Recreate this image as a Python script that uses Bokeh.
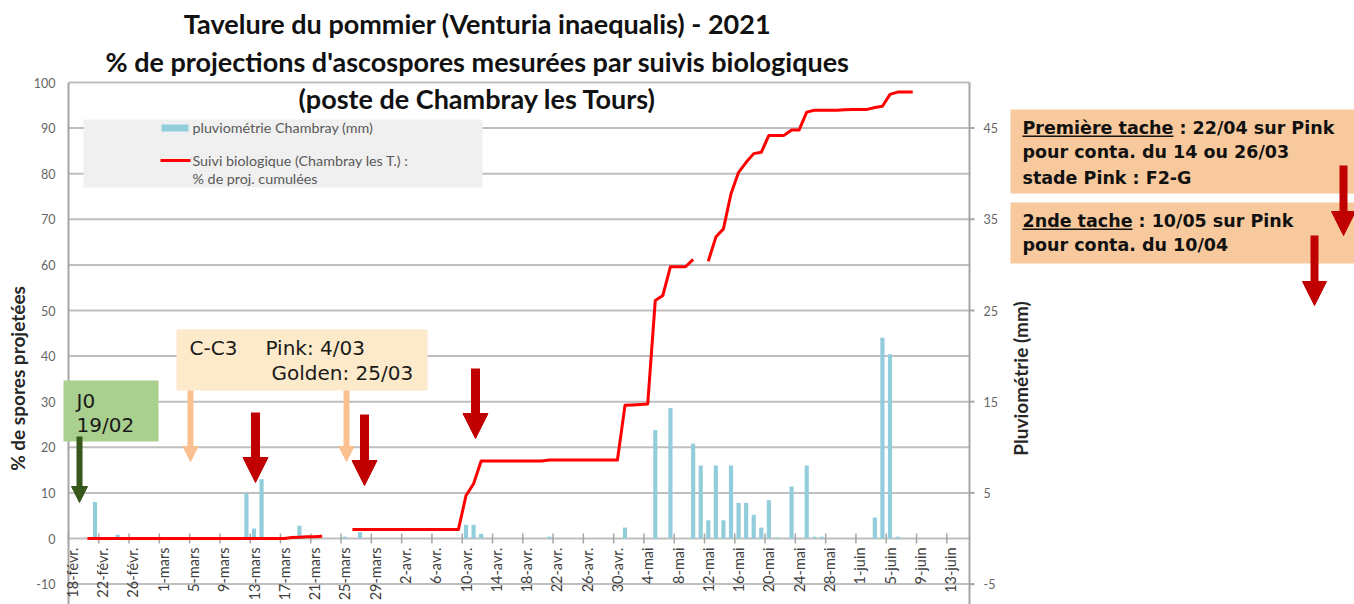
import math
from bokeh.plotting import figure
from bokeh.models import (Range1d, Label, BoxAnnotation, Arrow, NormalHead,
                          ColumnDataSource)
from bokeh.core.properties import value
from bokeh.embed import file_html
from bokeh.resources import INLINE

# ---------------- data ----------------
tick_labels = ["18-févr.", "22-févr.", "26-févr.", "1-mars", "5-mars", "9-mars",
               "13-mars", "17-mars", "21-mars", "25-mars", "29-mars", "2-avr.",
               "6-avr.", "10-avr.", "14-avr.", "18-avr.", "22-avr.", "26-avr.",
               "30-avr.", "4-mai", "8-mai", "12-mai", "16-mai", "20-mai", "24-mai",
               "28-mai", "1-juin", "5-juin", "9-juin", "13-juin"]
tick_step = 4          # one label every 4 days (categories)
n_categories = 119     # days shown on the category axis

# pluviométrie Chambray (mm) : day index (0 = 18-févr.) and rain
rain_day = [3, 6, 23, 24, 25, 30, 36, 38, 52, 53, 54, 63, 73, 77, 79, 82, 83, 84,
            85, 86, 87, 88, 89, 90, 91, 92, 93, 95, 97, 98, 99, 106, 107, 108, 109]
rain_mm = [4.0, 0.4, 5.0, 1.1, 6.5, 1.4, 0.2, 0.7, 1.5, 1.5, 0.5, 0.2, 1.2, 11.9,
           14.3, 10.4, 8.0, 2.0, 8.0, 2.0, 8.0, 3.9, 3.9, 2.6, 1.2, 4.2, 0.1, 5.7,
           8.0, 0.2, 0.2, 2.3, 22.0, 20.2, 0.2]

# Suivi biologique : % de projections cumulées (nan = pas de mesure)
nan = float("nan")
spore_day = list(range(2, 112))
spore_pct = [0.0, 0.0, 0.0, 0.0, 0.0, 0.0, 0.0, 0.0, 0.0, 0.0,          # 2-11
             0.0, 0.0, 0.0, 0.0, 0.0, 0.0, 0.0, 0.0, 0.0, 0.0,          # 12-21
             0.0, 0.0, 0.0, 0.0, 0.0, 0.0, 0.0, 0.2, 0.3, 0.4,          # 22-31
             0.4, 0.5, nan, nan, nan, 2.0, 2.0, 2.0, 2.0, 2.0,          # 32-41
             2.0, 2.0, 2.0, 2.0, 2.0, 2.0, 2.0, 2.0, 2.0, 2.0,          # 42-51
             9.4, 12.0, 17.0, 17.0, 17.0, 17.0, 17.0, 17.0, 17.0, 17.0,  # 52-61
             17.0, 17.2, 17.2, 17.2, 17.2, 17.2, 17.2, 17.2, 17.2, 17.2,  # 62-71
             17.2, 29.2, 29.3, 29.4, 29.5, 52.2, 53.3, 59.6, 59.6, 59.6,  # 72-81
             61.2, nan, 60.8, 66.1, 67.9, 75.6, 80.3, 82.5, 84.4, 84.7,   # 82-91
             88.4, 88.4, 88.4, 89.6, 89.6, 93.5, 93.9, 93.9, 93.9, 93.9,  # 92-101
             94.0, 94.1, 94.1, 94.1, 94.5, 94.8, 97.4, 97.9, 97.9, 97.9]  # 102-111

left_ticks = [-10, 0, 10, 20, 30, 40, 50, 60, 70, 80, 90, 100]
right_ticks = [-5, 5, 15, 25, 35, 45]
left_max = 100
rain_per_pct = 0.5     # right axis (mm) = left axis (%) x 0.5

# ---------------- layout helpers (canvas pixels -> data units) ----------------
W, H = 1354, 604
PX_LEFT, PX_RIGHT = 68.0, 969.0       # plot area left / right edges
PX_ZERO, PX_PER_UNIT = 538.0, 4.56    # y pixel of 0 %, pixels per 1 %
DX = n_categories / (PX_RIGHT - PX_LEFT)


def ax(px):
    return (px - PX_LEFT) * DX


def ay(py):
    return (PX_ZERO - py) / PX_PER_UNIT


FONT = "Lato"
BOX_FONT = "DejaVu Sans"
GRID = "#BFBFBF"
AXIS = "#A6A6A6"
TXT = "#1A1A1A"

p = figure(width=W, height=H,
           x_range=Range1d(ax(0), ax(W)), y_range=Range1d(ay(H), ay(0)),
           min_border=0, output_backend="svg", toolbar_location=None,
           x_axis_location=None, y_axis_location=None)
p.extra_y_ranges = {"rain": Range1d(ay(H) * rain_per_pct, ay(0) * rain_per_pct)}
p.outline_line_color = None
p.background_fill_color = "white"
p.border_fill_color = "white"
p.xgrid.visible = False
p.ygrid.visible = False

y_bottom = ay(H)

# horizontal gridlines (left scale)
p.segment(x0=[0] * len(left_ticks), x1=[n_categories] * len(left_ticks),
          y0=left_ticks, y1=left_ticks, line_color=GRID, line_width=2)
# vertical axis lines
p.segment(x0=[0, n_categories], x1=[0, n_categories], y0=[y_bottom, y_bottom],
          y1=[left_max, left_max], line_color=AXIS, line_width=2)
# left tick labels
p.text(x=[0] * len(left_ticks), y=left_ticks, text=[str(t) for t in left_ticks],
       x_offset=-13, text_align="right", text_baseline="middle",
       text_font=value(FONT), text_font_size="12.5px", text_color="#666666")
# right axis ticks + labels (mm)
p.segment(x0=[n_categories] * len(right_ticks), x1=[n_categories + 5 * DX] * len(right_ticks),
          y0=right_ticks, y1=right_ticks, y_range_name="rain",
          line_color=AXIS, line_width=2)
p.text(x=[n_categories] * len(right_ticks), y=right_ticks, y_range_name="rain",
       text=[str(t) for t in right_ticks], x_offset=14, text_align="left",
       text_baseline="middle", text_font=value(FONT), text_font_size="12.5px",
       text_color="#666666")

# category axis drawn at y = 0
tick_x = [i * tick_step for i in range(len(tick_labels))]
p.segment(x0=tick_x, y0=[-1.1] * len(tick_x), x1=tick_x, y1=[1.1] * len(tick_x),
          line_color=AXIS, line_width=1.5)
p.text(x=[t + 0.5 for t in tick_x], y=[0] * len(tick_x), text=tick_labels,
       angle=math.pi / 2, text_align="right", text_baseline="middle", y_offset=9,
       text_font=value(FONT), text_font_size="14.5px", text_color="#404040")

# bars (right axis) and cumulated line (left axis)
rain_src = ColumnDataSource(dict(x=[d + 0.5 for d in rain_day], top=rain_mm))
p.vbar(x="x", top="top", width=0.55, bottom=0, source=rain_src,
       y_range_name="rain", fill_color="#92CDDC", line_color=None)
spore_src = ColumnDataSource(dict(x=[d + 0.5 for d in spore_day], y=spore_pct))
p.line(x="x", y="y", source=spore_src, line_color="#FF0000", line_width=3,
       line_join="round")


def box(x0, x1, y0, y1, color):
    p.add_layout(BoxAnnotation(left=ax(x0), right=ax(x1), top=ay(y0), bottom=ay(y1),
                               fill_color=color, fill_alpha=1, line_color=None))


def lab(px, py, text, size, color=TXT, bold=False, align="left", angle=0.0, font=FONT):
    p.add_layout(Label(x=ax(px), y=ay(py), text=text, text_font=font,
                       text_font_size=size, text_color=color,
                       text_font_style="bold" if bold else "normal",
                       text_align=align, text_baseline="middle", angle=angle))


def block_arrow(px, top, base, tip, shaft, head, color):
    p.add_layout(Arrow(x_start=ax(px), y_start=ay(top), x_end=ax(px), y_end=ay(base + 1),
                       end=None, line_color=color, line_width=shaft, line_cap="butt"))
    p.add_layout(Arrow(x_start=ax(px), y_start=ay(base + 2), x_end=ax(px), y_end=ay(tip),
                       line_alpha=0,
                       end=NormalHead(size=head, fill_color=color, line_color=color,
                                      line_width=1)))


# titles
lab(477, 23, "Tavelure du pommier (Venturia inaequalis) - 2021", "27px", "#111111", True, "center")
lab(477, 61, "% de projections d'ascospores mesurées par suivis biologiques", "27px", "#111111", True, "center")
lab(477, 98, "(poste de Chambray les Tours)", "27px", "#111111", True, "center")

# axis titles
lab(17, 378, "% de spores projetées", "19px", "#262626", True, "center", math.pi / 2)
lab(1020, 378, "Pluviométrie (mm)", "19px", "#262626", True, "center", math.pi / 2)

# legend
box(83, 482, 119, 187, "#F0F0F0")
box(161, 188, 124, 131, "#92CDDC")
box(160, 190, 158.5, 161.5, "#FF0000")
lab(192, 127, "pluviométrie Chambray (mm)", "14.3px", "#595959")
lab(192, 160, "Suivi biologique (Chambray les T.) :", "14.3px", "#595959")
lab(192, 178, "% de proj. cumulées", "14.3px", "#595959")

# annotation boxes
box(63, 158, 380, 441, "#A9D08E")
lab(76, 400, "J0", "20px", font=BOX_FONT)
lab(76, 424, "19/02", "20px", font=BOX_FONT)

box(176, 427, 329, 390, "#FDEACB")
lab(189, 347, "C-C3", "20px", font=BOX_FONT)
lab(265, 347, "Pink: 4/03", "20px", font=BOX_FONT)
lab(271, 372, "Golden: 25/03", "20px", font=BOX_FONT)

box(1010, 1360, 109, 193, "#F8C99C")
box(1010, 1360, 202, 263, "#F8C99C")
lab(1022, 127, "Première tache : 22/04 sur Pink", "17.5px", "#111111", True, font=BOX_FONT)
lab(1022, 151, "pour conta. du 14 ou 26/03", "17.5px", "#111111", True, font=BOX_FONT)
lab(1022, 177, "stade Pink : F2-G", "17.5px", "#111111", True, font=BOX_FONT)
lab(1022, 220, "2nde tache : 10/05 sur Pink", "17.5px", "#111111", True, font=BOX_FONT)
lab(1022, 244, "pour conta. du 10/04", "17.5px", "#111111", True, font=BOX_FONT)
box(1022, 1173, 135, 136.5, "#111111")
box(1022, 1132, 228, 229.5, "#111111")

# arrows
block_arrow(79, 436, 486, 502, 6, 16, "#38571A")
block_arrow(190, 390, 447, 461, 6, 15, "#FAC090")
block_arrow(346, 390, 447, 461, 6, 15, "#FAC090")
block_arrow(255, 412, 458, 482, 9, 25, "#C00000")
block_arrow(364, 414, 462, 485, 9, 25, "#C00000")
block_arrow(475, 368, 413, 438, 9, 25, "#C00000")
block_arrow(1343, 165, 210, 235, 8, 24, "#C00000")
block_arrow(1314, 235, 280, 305, 8, 24, "#C00000")

open("out.html", "w").write(file_html(p, INLINE))
